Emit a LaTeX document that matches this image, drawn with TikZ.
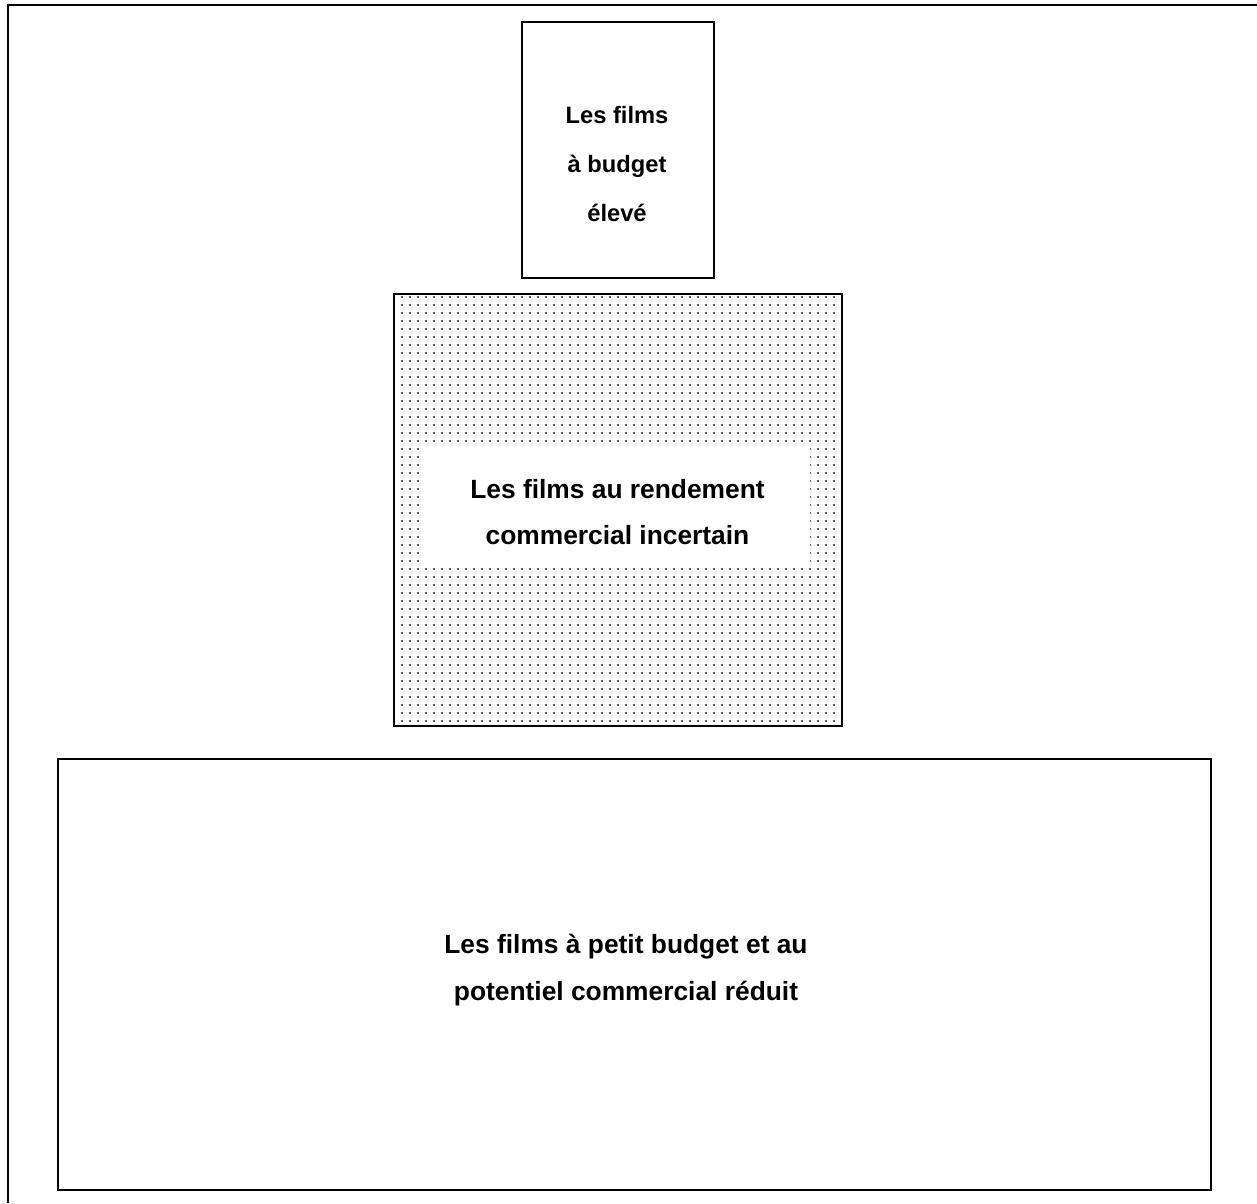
\documentclass[tikz,border=0pt]{standalone}
\usepackage{fontspec}
\setmainfont{Liberation Sans}
\usepackage{tikz}
\usetikzlibrary{positioning,patterns.meta}

\tikzdeclarepattern{
  name=pointille,
  type=uncolored,
  bounding box={(0,0) and (4.54pt,4.54pt)},
  tile size={(4.54pt,4.54pt)},
  code={\fill (1.77pt,1.77pt) rectangle (2.77pt,2.77pt);}
}

\tikzset{
  boite/.style={draw, line width=1pt, rectangle, inner sep=0pt},
  titre/.style={font=\bfseries\fontsize{15}{26.6}\selectfont, align=center},
  petit/.style={font=\bfseries\fontsize{13.5}{27.8}\selectfont, align=center}
}

\begin{document}
\begin{tikzpicture}
		\useasboundingbox (0,0) rectangle (25.14,-24.06);

		% cadre
		\draw[line width=1.1pt] (0.16,-24.06) -- (0.16,-0.1) -- (25.14,-0.1);

		% haut
		\node[boite, minimum width=3.84cm, minimum height=5.12cm] (haut) at (12.36,-3.0) {};
		\node[petit] (hautTxt) at (12.34,-3.28) {Les films\\à budget\\élevé};

		% milieu
		\node[boite, pattern={pointille}, pattern color=black!65, minimum width=8.96cm, minimum height=8.64cm] (milieu) at (12.36,-10.2) {};
		\node[fill=white, minimum width=7.74cm, minimum height=2.4cm, inner sep=0pt] (milieuFond) at (12.33,-10.1) {};
		\node[titre] (milieuTxt) at (12.35,-10.24) {Les films au rendement\\commercial incertain};

		% bas
		\node[boite, minimum width=23.06cm, minimum height=8.62cm] (bas) at (12.69,-19.49) {};
		\node[titre] (basTxt) at (12.52,-19.4) {Les films à petit budget et au\\potentiel commercial réduit};
	\end{tikzpicture}
\end{document}
